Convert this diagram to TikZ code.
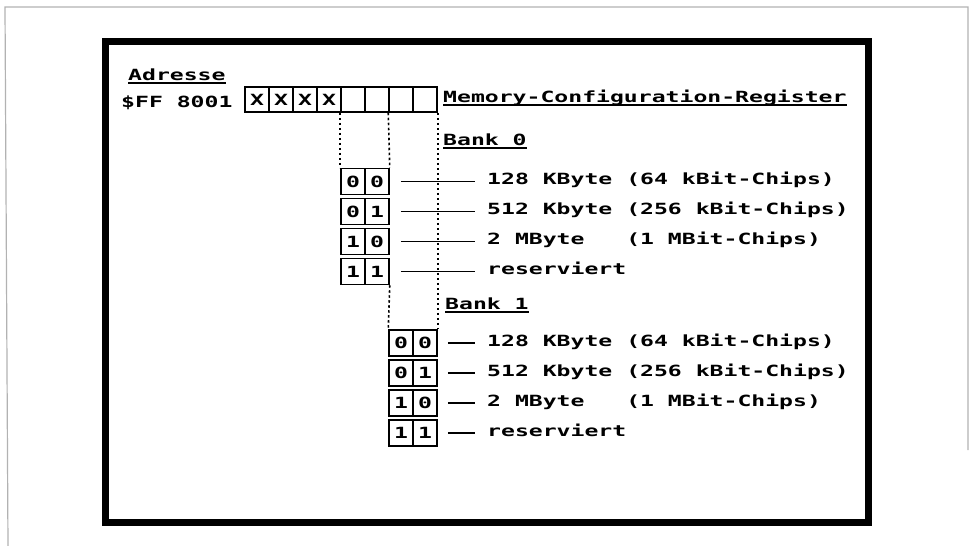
\documentclass[tikz,border=0pt]{standalone}
\usepackage{fontspec}
\newfontfamily\atari[FakeStretch=1.5]{DejaVu Sans Mono}
\begin{document}
\begin{tikzpicture}[x=1pt,y=-1pt,
  every node/.style={font=\atari\bfseries\fontsize{15.4}{18}\selectfont},
  cell/.style={draw, line width=1.5pt, minimum width=24pt, minimum height=25pt, inner sep=0pt, anchor=center},
  bcell/.style={cell, minimum height=26pt},
  lbl/.style={anchor=base west, inner sep=0pt},
  rowtxt/.style={anchor=west, inner sep=0pt, text height=11.3pt, text depth=5pt},
  conn/.style={line width=1.5pt},
  dotl/.style={line width=1.6pt, dash pattern=on 2.5pt off 2.5pt},
  uline/.style={line width=1.5pt}]
\path[use as bounding box] (0,0) rectangle (972,546);
% frames
\draw[gray!60, line width=1.2pt] (8,546) -- (5,7) -- (968,7) -- (968,450);
\draw[line width=7pt] (105,41) rectangle (868,522);
% address
\node[lbl] (adr) at (128,80) {Adresse};
\draw[uline] ([yshift=-3pt]adr.base west) -- ([yshift=-3pt]adr.base east);
\node[lbl] (addr) at (121,107) {\$FF 8001};
% register
\foreach \i/\t in {1/X,2/X,3/X,4/X,5/{},6/{},7/{},8/{}}
  \node[cell] (r\i) at ({233+24*\i},99.5) {\t};
\node[lbl] (mcr) at (443,102) {Memory-Configuration-Register};
\draw[uline] ([yshift=-3pt]mcr.base west) -- ([yshift=-3pt]mcr.base east);
% bank labels
\node[lbl] (bk0) at (443,145) {Bank 0};
\draw[uline] ([yshift=-3pt]bk0.base west) -- ([yshift=-3pt]bk0.base east);
\node[lbl] (bk1) at (445,309) {Bank 1};
\draw[uline] ([yshift=-3pt]bk1.base west) -- ([yshift=-3pt]bk1.base east);
% bank 0 cells
\foreach \r/\a/\b in {1/0/0,2/0/1,3/1/0,4/1/1} {
  \node[bcell] (pl\r) at (353,{151.5+30*\r}) {\a};
  \node[bcell] (pr\r) at (377,{151.5+30*\r}) {\b};
}
% bank 1 cells
\foreach \r/\a/\b in {1/0/0,2/0/1,3/1/0,4/1/1} {
  \node[bcell] (ql\r) at (401,{313+30*\r}) {\a};
  \node[bcell] (qr\r) at (425,{313+30*\r}) {\b};
}
% dotted lines
\draw[dotl] (r5.south west) -- (pl1.north west);
\draw[dotl] (r7.south west) -- (pr1.north east);
\draw[dotl] (pr4.south east) -- (ql1.north west);
\draw[dotl] (r8.south east) -- (qr1.north east);
% bank 0 texts
\node[rowtxt] (ta1) at (487,181.5) {128 KByte (64 kBit-Chips)};
\node[rowtxt] (ta2) at (487,211.5) {512 Kbyte (256 kBit-Chips)};
\node[rowtxt] (ta3) at (487,241.5) {2 MByte\ \ \ (1 MBit-Chips)};
\node[rowtxt] (ta4) at (487,271.5) {reserviert};
% bank 1 texts
\node[rowtxt] (tb1) at (487,343) {128 KByte (64 kBit-Chips)};
\node[rowtxt] (tb2) at (487,373) {512 Kbyte (256 kBit-Chips)};
\node[rowtxt] (tb3) at (487,403) {2 MByte\ \ \ (1 MBit-Chips)};
\node[rowtxt] (tb4) at (487,433) {reserviert};
% connectors
\foreach \r in {1,2,3,4} {
  \draw[conn] ([xshift=11pt]pr\r.east) -- ([xshift=-12pt]ta\r.west);
  \draw[conn] ([xshift=10pt]qr\r.east) -- ([xshift=-12pt]tb\r.west);
}
\end{tikzpicture}
\end{document}
